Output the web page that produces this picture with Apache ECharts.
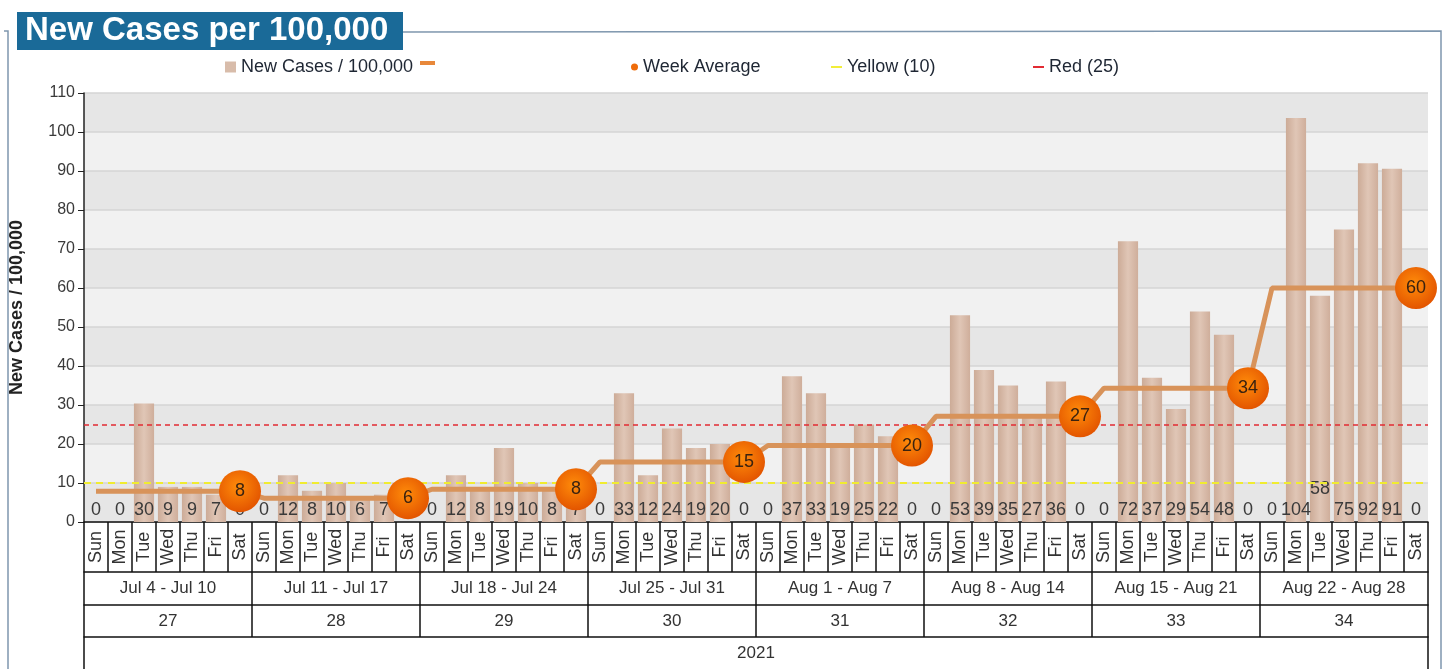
<!DOCTYPE html>
<html>
<head>
<meta charset="utf-8">
<script src="https://cdn.jsdelivr.net/npm/echarts@6/dist/echarts.min.js"></script>
<style>
html,body{margin:0;padding:0;background:#fff;}
#chart{width:1449px;height:669px;}
</style>
</head>
<body>
<div id="chart"></div>
<script>
const dayNames = ['Sun','Mon','Tue','Wed','Thu','Fri','Sat'];
const weekRanges = ['Jul 4 - Jul 10','Jul 11 - Jul 17','Jul 18 - Jul 24','Jul 25 - Jul 31','Aug 1 - Aug 7','Aug 8 - Aug 14','Aug 15 - Aug 21','Aug 22 - Aug 28'];
const weekNumbers = ['27','28','29','30','31','32','33','34'];
const years = ['2021'];
const newCases = [
  0, 0, 30.4, 9, 9, 7, 0,
  0, 12, 8, 10, 6, 7, 0,
  0, 12, 8, 19, 10, 8, 7,
  0, 33, 12, 24, 19, 20, 0,
  0, 37.4, 33, 19, 25, 22, 0,
  0, 53, 39, 35, 27, 36, 0,
  0, 72, 37, 29, 54, 48, 0,
  0, 103.6, 58, 75, 92, 90.6, 0
];
const weekAverage = [7.9, 6.1, 8.4, 15.4, 19.6, 27.1, 34.3, 60];
const yellowLevel = 10;
const redLevel = 25;
const yTicks = [0, 10, 20, 30, 40, 50, 60, 70, 80, 90, 100, 110];

const days = [];
weekRanges.forEach(() => dayNames.forEach(d => days.push(d)));

const barData = newCases.map((v, i) => i === 51 ? {value: v, label: {offset: [0, -21]}} : v);
const avgData = days.map((d, i) => {
  const w = Math.floor(i / 7);
  if (i % 7 === 6) return {value: weekAverage[w], symbol: 'circle', symbolSize: 42, label: {show: true}};
  return {value: weekAverage[w], symbol: 'none'};
});

const FONT = '"Liberation Sans", Arial, sans-serif';
const chart = echarts.init(document.getElementById('chart'));

function bottomAxis(data, offset, tickLen, labelOpts) {
  return Object.assign({
    type: 'category', data: data, position: 'bottom', offset: offset, gridIndex: 0,
    boundaryGap: true,
    axisLine: {show: true, lineStyle: {color: '#111', width: 1.5}},
    axisTick: {show: true, length: tickLen, interval: 0, lineStyle: {color: '#111', width: 1.5}},
    splitLine: {show: false},
    axisLabel: {interval: 0, color: '#333', fontFamily: FONT, fontSize: 17, margin: 16, verticalAlign: 'middle'}
  }, labelOpts || {});
}

const legendText = {fontSize: 18, color: '#1e2633', fontFamily: FONT};
const option = {
  animation: false,
  backgroundColor: '#fff',
  textStyle: {fontFamily: FONT},
  grid: {left: 84, right: 21, top: 93, bottom: 147, containLabel: false, outerBoundsMode: 'none'},
  legend: [
    {left: 220, top: 53, itemWidth: 11, itemHeight: 11, textStyle: legendText,
     data: [{name: 'New Cases / 100,000', icon: 'rect', itemStyle: {color: '#d8bcaa'}}]},
    {left: 626, top: 53, itemWidth: 7, itemHeight: 7, itemGap: 5, textStyle: legendText,
     data: [{name: 'Week Average', icon: 'circle', itemStyle: {color: '#ef6c0a'}}]},
    {left: 826, top: 53, itemWidth: 11, itemHeight: 2, textStyle: legendText,
     data: [{name: 'Yellow (10)', icon: 'rect', itemStyle: {color: '#f2ee3a'}}]},
    {left: 1028, top: 53, itemWidth: 11, itemHeight: 2, textStyle: legendText,
     data: [{name: 'Red (25)', icon: 'rect', itemStyle: {color: '#e22b33'}}]}
  ],
  xAxis: [
    bottomAxis(days, 0, 50, {axisLabel: {interval: 0, rotate: 90, align: 'center', verticalAlign: 'middle', margin: 25, color: '#333', fontFamily: FONT, fontSize: 18}}),
    bottomAxis(weekRanges, 50, 33),
    bottomAxis(weekNumbers, 83, 32),
    bottomAxis(years, 115, 60)
  ],
  yAxis: {
    type: 'value', min: 0, max: 110, interval: 10,
    name: 'New Cases / 100,000', nameLocation: 'middle', nameGap: 58, nameRotate: 90,
    nameTextStyle: {fontWeight: 'bold', fontSize: 18, color: '#222', fontFamily: FONT},
    axisLine: {show: true, lineStyle: {color: '#222', width: 1.5}},
    axisTick: {show: true, length: 6, lineStyle: {color: '#222'}},
    axisLabel: {color: '#3a3a3a', fontSize: 16, margin: 9, fontFamily: FONT,
      formatter: v => yTicks.indexOf(v) >= 0 ? String(v) : ''},
    splitLine: {show: true, lineStyle: {color: '#d4d4d4', width: 1.5}},
    splitArea: {show: true, areaStyle: {color: ['#e6e6e6', '#f1f1f1']}}
  },
  series: [
    {
      name: 'New Cases / 100,000', type: 'bar', xAxisIndex: 0, data: barData, barWidth: '84%', z: 2,
      itemStyle: {color: {type: 'linear', x: 0, y: 0, x2: 1, y2: 0, colorStops: [
        {offset: 0, color: '#ccab97'}, {offset: 0.5, color: '#e0c6b6'}, {offset: 1, color: '#cfae9b'}]}},
      label: {show: true, position: 'insideBottom', distance: 3, fontSize: 18, color: '#3a3a3a', fontFamily: FONT,
        formatter: p => String(Math.round(p.value))}
    },
    {
      name: 'Week Average', type: 'line', xAxisIndex: 0, data: avgData, z: 5,
      lineStyle: {color: '#d8935a', width: 5},
      itemStyle: {color: {type: 'radial', x: 0.45, y: 0.4, r: 0.6, colorStops: [
        {offset: 0, color: '#ff8c0a'}, {offset: 1, color: '#e35500'}]}, borderWidth: 0},
      label: {show: false, position: 'inside', fontSize: 18, color: '#3a2210', fontFamily: FONT,
        formatter: p => String(Math.round(p.value))}
    },
    {
      name: 'Yellow (10)', type: 'line', xAxisIndex: 0, data: [], color: '#f2ee3a', z: 4,
      markLine: {silent: true, symbol: 'none', label: {show: false},
        lineStyle: {color: '#f0ec30', type: [7, 5], width: 2}, data: [{yAxis: yellowLevel}]}
    },
    {
      name: 'Red (25)', type: 'line', xAxisIndex: 0, data: [], color: '#e22b33', z: 4,
      markLine: {silent: true, symbol: 'none', label: {show: false},
        lineStyle: {color: '#e22b33', type: [5, 4], width: 1.5}, data: [{yAxis: redLevel}]}
    }
  ],
  graphic: [
    {type: 'polyline', shape: {points: [[4, 31], [8, 31], [8, 669]]}, style: {stroke: '#7f97ae', lineWidth: 1.5, fill: null}},
    {type: 'polyline', shape: {points: [[403, 32], [1441, 31], [1441, 669]]}, style: {stroke: '#7f97ae', lineWidth: 1.5, fill: null}},
    {type: 'rect', shape: {x: 17, y: 12, width: 386, height: 38}, style: {fill: '#1a6a98'}},
    {type: 'text', x: 25, y: 31, style: {text: 'New Cases per 100,000', fill: '#fff', font: 'bold 33px "Liberation Sans", Arial, sans-serif', verticalAlign: 'middle'}},
    {type: 'rect', shape: {x: 420, y: 61, width: 15, height: 4}, style: {fill: '#e8883a'}}
  ]
};
chart.setOption(option);
</script>
</body>
</html>
